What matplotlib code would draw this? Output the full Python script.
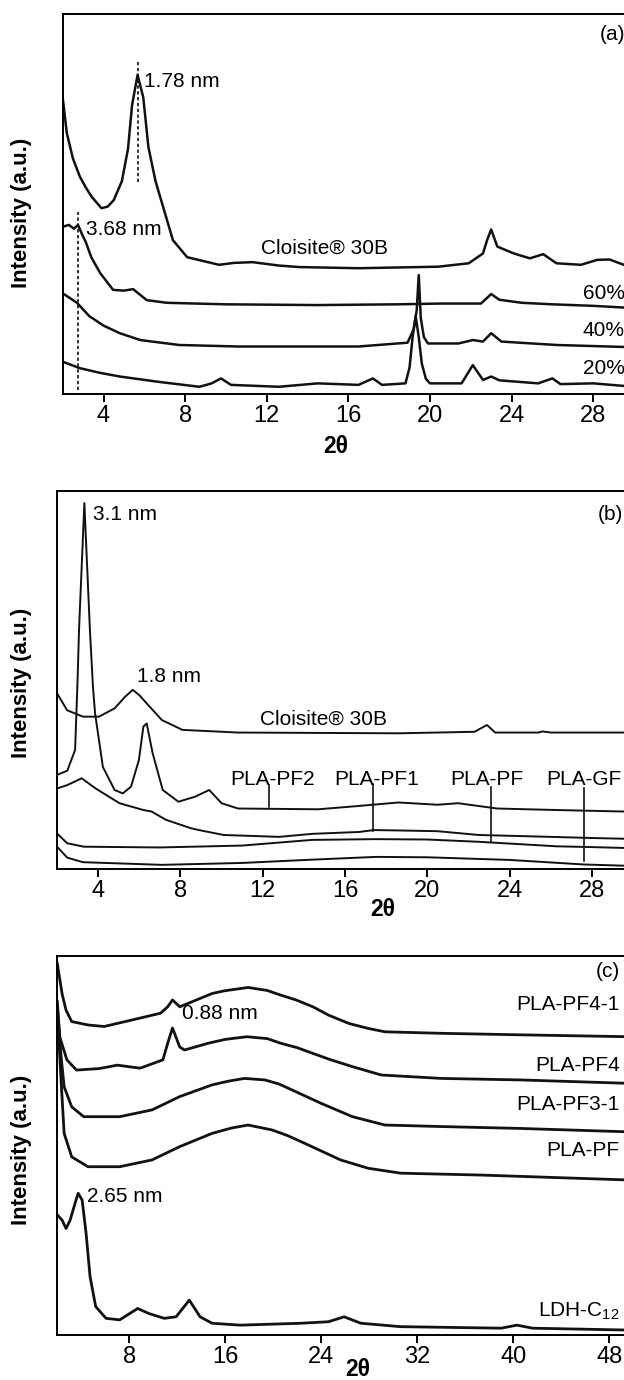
import numpy as np
import matplotlib
matplotlib.use('Agg')
import matplotlib.pyplot as plt

plt.rcParams['font.family'] = ['Liberation Sans', 'DejaVu Sans']
plt.rcParams['mathtext.fontset'] = 'custom'
plt.rcParams['mathtext.rm'] = 'Liberation Sans'

# ---- panel (a): 2theta vs intensity (a.u., 0-100 of panel height)
a_cloisite_x = [2.0, 2.2, 2.5, 2.84, 3.15, 3.42, 3.9, 4.2, 4.5, 4.9, 5.2, 5.4, 5.67, 5.95,
                6.2, 6.55, 7.1, 7.4, 8.1, 9.66, 10.4, 11.3, 12.6, 13.6, 16.5, 20.4, 21.9,
                22.6, 22.8, 23.0, 23.3, 24.1, 24.9, 25.55, 26.2, 27.4, 28.2, 28.8, 29.5, 30.0]
a_cloisite_y = [78, 68.7, 62, 57.2, 54.2, 51.9, 48.9, 49.3, 51, 56, 64.5, 76, 84, 78,
                65, 56, 46, 40.5, 36, 34, 34.5, 34.7, 33.8, 33.4, 33.1, 33.5, 34.4,
                37, 40.5, 43.3, 38.8, 37, 35.7, 36.8, 34.4, 34, 35.3, 35.4, 34, 34]
a_60_x = [2.0, 2.3, 2.55, 2.75, 2.95, 3.13, 3.4, 3.84, 4.47, 5.0, 5.45, 6.12, 7.1, 10, 14.5,
          18.4, 20.5, 22.5, 23.0, 23.4, 24.5, 26, 28, 30]
a_60_y = [44, 44.5, 43.5, 44.5, 42, 40, 36, 31.8, 27.4, 27.2, 27.6, 24.7, 24, 23.6, 23.4,
          23.6, 23.8, 23.8, 26.3, 24.8, 24, 23.6, 23.2, 22.6]
a_40_x = [2.0, 2.7, 3.3, 4.0, 4.8, 5.8, 7.7, 10.6, 16.5, 18.9, 19.2, 19.35, 19.45, 19.55,
          19.7, 19.9, 21.4, 22.1, 22.6, 23.0, 23.5, 26.2, 30]
a_40_y = [26.5, 24, 20.5, 18, 16, 14.2, 12.9, 12.5, 12.5, 13.5, 17, 22, 31.3, 20, 15,
          13.3, 13.3, 14.2, 13.8, 16, 13.8, 12.9, 12.3]
a_20_x = [2.0, 2.84, 3.8, 4.8, 6.7, 8.7, 9.3, 9.76, 10.25, 12.6, 14.5, 16.5, 17.2, 17.65,
          18.8, 19.0, 19.15, 19.3, 19.45, 19.6, 19.8, 20.0, 21.55, 22.1, 22.6, 23.0, 23.4,
          25.3, 26.0, 26.4, 28.0, 30]
a_20_y = [8.5, 6.8, 5.6, 4.6, 3.2, 1.9, 2.8, 4.1, 2.4, 1.9, 2.8, 2.4, 4.1, 2.4,
          2.8, 7, 15, 20.5, 15, 8, 4, 2.8, 2.8, 7.6, 3.7, 4.6, 3.6,
          2.8, 4.1, 2.6, 2.8, 1.9]

# ---- panel (b)
b_cloisite_x = [2.0, 2.49, 3.26, 4.04, 4.8, 5.3, 5.68, 6.0, 6.36, 7.1, 8.1, 10.8, 18.6,
                22.3, 22.9, 23.3, 25.4, 25.6, 26.0, 29.6, 30.0]
b_cloisite_y = [46.5, 42, 40.3, 40.3, 42.5, 45.5, 47.4, 46, 43.8, 39.4, 36.8, 36.1, 35.9,
                36.3, 38.1, 36.1, 36.1, 36.4, 36.1, 36.1, 36.1]
b_pf2_x = [2.0, 2.5, 2.88, 3.0, 3.07, 3.33, 3.6, 3.75, 3.85, 4.23, 4.8, 5.2, 5.6, 5.98,
           6.2, 6.36, 6.65, 7.14, 7.9, 8.7, 9.4, 10.0, 10.8, 14.7, 16.5, 18.6, 20.5, 21.5,
           23.4, 26.3, 29.6, 30.0]
b_pf2_y = [24.9, 26.0, 31.5, 50, 63.2, 96.8, 63.2, 48, 41.2, 27, 20.9, 20.0, 21.8, 28.8,
           37.7, 38.5, 30.6, 20.9, 17.8, 19.1, 20.9, 17.4, 16.0, 15.8, 16.6, 17.6, 17.0,
           17.4, 16.0, 15.6, 15.2, 15.2]
b_pf1_x = [2.0, 2.5, 3.2, 3.88, 5.04, 6.2, 6.6, 7.3, 8.5, 8.9, 10.1, 12.8, 14.4, 16.7,
           17.4, 18.6, 20.5, 22.5, 26.0, 28.0, 29.6, 30.0]
b_pf1_y = [21.3, 22.2, 24, 21.3, 17.4, 15.6, 15.2, 13, 10.8, 10.3, 9.0, 8.5, 9.3, 9.8,
           10.3, 10.2, 10.0, 9.0, 8.5, 8.2, 8.0, 8.0]
b_pf_x = [2.0, 2.5, 3.3, 7.0, 11.0, 14.4, 17.5, 20.0, 22.5, 26.3, 28.0, 30.0]
b_pf_y = [9.4, 6.8, 5.9, 5.7, 6.2, 7.7, 7.9, 7.8, 7.2, 6.0, 5.8, 5.5]
b_gf_x = [2.0, 2.5, 3.26, 7.1, 11.0, 14.1, 17.5, 20.0, 24.0, 27.6, 30.0]
b_gf_y = [5.9, 3.0, 1.8, 1.1, 1.6, 2.4, 3.2, 3.1, 2.4, 1.2, 0.8]

b_marker_names = ['PLA-PF2', 'PLA-PF1', 'PLA-PF', 'PLA-GF']
b_marker_x = [12.32, 17.35, 23.1, 27.6]
b_marker_top = [22.2, 22.5, 21.6, 21.3]
b_marker_bot = [16.3, 10.1, 7.1, 2.2]
b_label_x = [12.5, 17.56, 22.9, 27.6]

# ---- panel (c)
c_pf41_x = [2.0, 2.4, 2.73, 3.2, 4.56, 5.9, 8.2, 10.6, 11.2, 11.6, 12.2, 12.9, 14.9, 15.9,
            17.9, 19.5, 20.6, 21.9, 23.3, 24.6, 26.3, 27.9, 29.3, 34, 40.6, 49.6, 50]
c_pf41_y = [98, 90, 85.7, 82.7, 81.8, 81.4, 83.1, 84.9, 86.6, 88.4, 86.6, 87.5, 90.1, 90.8,
            91.7, 90.9, 89.7, 88.4, 86.6, 84.4, 82.2, 80.9, 80, 79.6, 79.2, 78.7, 78.7]
c_pf4_x = [2.0, 2.2, 2.8, 3.6, 5.5, 7.0, 8.9, 10.8, 11.2, 11.6, 12.2, 12.6, 14.6, 16.0,
           17.8, 19.5, 20.6, 22.0, 23.3, 24.8, 26.6, 29, 34, 40.6, 49.6, 50]
c_pf4_y = [88, 78.7, 72.6, 69.9, 70.3, 71.2, 70.4, 72.6, 77, 81, 76, 75.2, 77, 78.0,
           78.7, 78.2, 77, 75.8, 74.3, 72.6, 70.8, 68.6, 67.7, 67.3, 66.4, 66.4]
c_pf31_x = [2.0, 2.3, 2.57, 3.2, 4.2, 7.2, 9.9, 12.2, 14.9, 16.3, 17.6, 19.3, 20.5, 21.6,
            24, 26.6, 29.3, 34, 40.6, 49.6, 50]
c_pf31_y = [87, 74, 65.5, 60.2, 57.6, 57.6, 59.4, 62.9, 66, 67.0, 67.7, 67.3, 66.2, 64.6,
            61.1, 57.6, 55.4, 55, 54.5, 53.6, 53.6]
c_pf_x = [2.0, 2.3, 2.57, 3.2, 4.56, 7.2, 9.9, 12.2, 14.9, 16.5, 17.9, 19.9, 21.2, 22.6,
          25.6, 27.9, 30.6, 37.3, 49.6, 50]
c_pf_y = [86, 68, 53.2, 47, 44.4, 44.4, 46.2, 49.7, 53.2, 54.6, 55.4, 54.1, 52.6, 50.6,
          46.2, 44, 42.7, 42.2, 40.9, 40.9]
c_ldh_x = [2.0, 2.4, 2.73, 3.07, 3.4, 3.74, 4.07, 4.4, 4.73, 5.2, 6.06, 7.2, 8.7, 9.6,
           10.9, 11.9, 13.0, 13.9, 14.9, 17.25, 22.3, 24.6, 25.9, 27.3, 30.6, 39, 40.3,
           41.6, 49.6, 50]
c_ldh_y = [31.7, 30.3, 28.1, 30.3, 33.9, 37.4, 35.6, 26.8, 15.4, 7.5, 4.4, 4.0, 7.0, 5.7,
           4.4, 4.8, 9.2, 4.8, 3.1, 2.6, 3.1, 3.5, 4.8, 3.1, 2.2, 1.8, 2.6, 1.8, 1.3, 1.3]

W, H = 624, 1380
fig = plt.figure(figsize=(W / 100, H / 100), dpi=100)


def make_ax(l, t, r, b, xmax, ticks):
    ax = fig.add_axes([l / W, 1 - b / H, (r - l) / W, (b - t) / H])
    ax.set_xlim(2, xmax)
    ax.set_ylim(0, 100)
    ax.set_yticks([])
    ax.set_xticks(ticks)
    ax.spines['right'].set_visible(False)
    for s in ['left', 'top', 'bottom']:
        ax.spines[s].set_linewidth(1.4)
    ax.tick_params(axis='x', direction='out', length=6, width=1.4, labelsize=17, pad=2)
    return ax


ink = '#111111'
tfs = 15

# (a)
ax = make_ax(62.7, 14, 634, 394, 30, range(4, 29, 4))
for xs, ys in [(a_cloisite_x, a_cloisite_y), (a_60_x, a_60_y), (a_40_x, a_40_y), (a_20_x, a_20_y)]:
    ax.plot(xs, ys, color=ink, lw=1.8)
ax.plot([5.7, 5.7], [55.9, 87.9], color=ink, lw=1.2, ls=(0, (2, 1.5)))
ax.plot([2.73, 2.73], [1.0, 48], color=ink, lw=1.2, ls=(0, (2, 1.5)))
ax.text(6.0, 82.2, '1.78 nm', fontsize=tfs, va='center')
ax.text(3.13, 43.3, '3.68 nm', fontsize=tfs, va='center')
ax.text(11.7, 38.3, 'Cloisite® 30B', fontsize=tfs, va='center')
ax.text(29.55, 94.5, '(a)', fontsize=tfs, va='center', ha='right')
for lab, yy in [('60%', 26.5), ('40%', 16.8), ('20%', 6.8)]:
    ax.text(29.55, yy, lab, fontsize=tfs, va='center', ha='right')
ax.text(0.478, -0.139, '2θ', transform=ax.transAxes, fontsize=16.5, fontweight='bold',
        ha='center', va='center')

# (b)
ax = make_ax(57, 491, 633, 869, 30, range(4, 29, 4))
for xs, ys in [(b_cloisite_x, b_cloisite_y), (b_pf2_x, b_pf2_y), (b_pf1_x, b_pf1_y),
               (b_pf_x, b_pf_y), (b_gf_x, b_gf_y)]:
    ax.plot(xs, ys, color=ink, lw=1.4)
for name, mx, top, bot, lx in zip(b_marker_names, b_marker_x, b_marker_top, b_marker_bot, b_label_x):
    ax.plot([mx, mx], [bot, top], color=ink, lw=1.2)
    ax.text(lx, 23.7, name, fontsize=tfs, ha='center', va='center')
ax.text(3.75, 93.7, '3.1 nm', fontsize=tfs, va='center')
ax.text(5.88, 50.9, '1.8 nm', fontsize=tfs, va='center')
ax.text(11.88, 39.6, 'Cloisite® 30B', fontsize=tfs, va='center')
ax.text(29.5, 93.7, '(b)', fontsize=tfs, va='center', ha='right')
ax.text(0.566, -0.108, '2θ', transform=ax.transAxes, fontsize=16.5, fontweight='bold',
        ha='center', va='center')

# (c)
ax = make_ax(57.3, 956, 633.3, 1335, 50, range(8, 49, 8))
for xs, ys in [(c_pf41_x, c_pf41_y), (c_pf4_x, c_pf4_y), (c_pf31_x, c_pf31_y),
               (c_pf_x, c_pf_y), (c_ldh_x, c_ldh_y)]:
    ax.plot(xs, ys, color=ink, lw=2.0)
for lab, yy in [('PLA-PF4-1', 87.1), ('PLA-PF4', 71.2), ('PLA-PF3-1', 60.7), ('PLA-PF', 48.8)]:
    ax.text(48.85, yy, lab, fontsize=tfs, va='center', ha='right')
ax.text(48.85, 6.2, r'LDH-C$_\mathregular{12}$', fontsize=tfs, va='center', ha='right')
ax.text(48.9, 95.9, '(c)', fontsize=tfs, va='center', ha='right')
ax.text(12.4, 84.9, '0.88 nm', fontsize=tfs, va='center')
ax.text(4.5, 36.5, '2.65 nm', fontsize=tfs, va='center')
ax.text(0.522, -0.092, '2θ', transform=ax.transAxes, fontsize=16.5, fontweight='bold',
        ha='center', va='center')

for yc in [213, 683, 1150]:
    fig.text(22 / W, 1 - yc / H, 'Intensity (a.u.)', rotation=90, fontsize=16,
             fontweight='bold', ha='center', va='center')

fig.savefig('out.png', dpi=100)
